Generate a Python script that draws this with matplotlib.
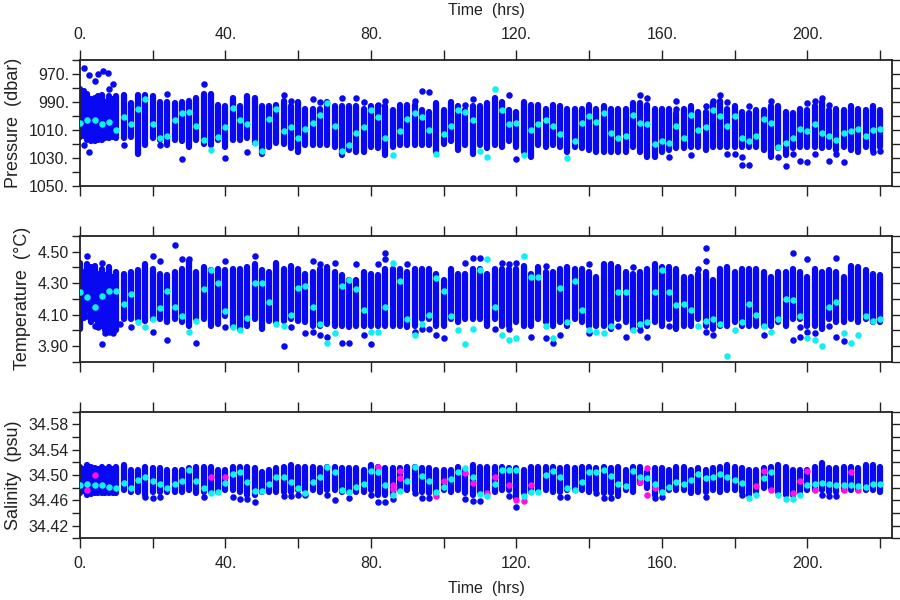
import matplotlib
matplotlib.use("Agg")
import matplotlib.pyplot as plt

plt.rcParams["font.family"] = ["Liberation Sans", "DejaVu Sans"]

# sampling times of the profile columns (hrs), one column every 2 hrs
hours = list(range(0, 222, 2))
early_hours = [1, 3, 5, 7, 9]

# ---------------- pressure (dbar) ----------------
# each row = 10 columns (20 hrs)
p_top = [981, 984, 987, 985, 986, 986, 985, 991, 985, 985,
         986, 990, 990, 991, 990, 989, 987, 984, 984, 992,
         993, 987, 993, 986, 987, 993, 993, 992, 989, 993,
         990, 995, 995, 995, 990, 993, 993, 993, 993, 995,
         993, 993, 993, 996, 992, 992, 992, 996, 997, 991,
         996, 990, 993, 996, 993, 993, 991, 987, 990, 996,
         997, 990, 992, 992, 995, 992, 993, 995, 995, 995,
         992, 995, 993, 995, 995, 995, 991, 991, 992, 995,
         995, 995, 998, 995, 993, 997, 997, 991, 989, 995,
         993, 997, 998, 996, 996, 993, 993, 997, 998, 995,
         996, 993, 990, 996, 995, 996, 993, 995, 996, 993,
         996]
p_bot = [1015, 1017, 1018, 1017, 1016, 1016, 1016, 1015, 1027, 1021,
         1016, 1017, 1021, 1017, 1018, 1022, 1017, 1020, 1021, 1017,
         1022, 1017, 1017, 1016, 1019, 1027, 1022, 1019, 1020, 1023,
         1026, 1021, 1021, 1021, 1021, 1022, 1028, 1024, 1026, 1026,
         1022, 1023, 1028, 1022, 1021, 1021, 1021, 1021, 1021, 1026,
         1020, 1018, 1024, 1021, 1027, 1021, 1023, 1021, 1022, 1018,
         1022, 1026, 1029, 1021, 1022, 1021, 1022, 1026, 1022, 1023,
         1024, 1026, 1026, 1026, 1026, 1026, 1022, 1026, 1029, 1029,
         1026, 1024, 1023, 1023, 1022, 1022, 1024, 1022, 1022, 1022,
         1022, 1022, 1022, 1022, 1024, 1029, 1023, 1028, 1023, 1022,
         1022, 1022, 1023, 1022, 1024, 1022, 1024, 1026, 1022, 1024,
         1022]
p_mean = [1005, 1003, 1003, 1006, 1004, 1010, 1001, 1006, 995, 988,
          1006, 1016, 1014, 1003, 998, 997, 1007, 1017, 1024, 1015,
          1008, 994, 1003, 1006, 1019, 1025, 1002, 995, 1011, 1008,
          1016, 1009, 1005, 999, 991, 1007, 1025, 1021, 1012, 1008,
          996, 1001, 1016, 1028, 1011, 1002, 998, 1001, 1010, 1027,
          1013, 1007, 996, 997, 1003, 1025, 1029, 981, 996, 1006,
          1005, 1028, 1010, 1006, 1003, 1007, 1013, 1030, 1018, 1005,
          1000, 1004, 998, 1012, 1016, 1014, 999, 1005, 1006, 1020,
          1018, 1019, 1007, 1016, 999, 1010, 1008, 996, 1000, 1007,
          1000, 1016, 1018, 1014, 1002, 1005, 1022, 1019, 1016, 1009,
          1011, 1006, 1012, 1014, 1017, 1012, 1011, 1009, 1014, 1010,
          1009]
p_early_top = [982, 988, 986, 990, 988]
p_early_bot = [1014, 1018, 1017, 1016, 1015]
p_extra = [(1, 966), (2.6, 971), (4, 975), (5, 970), (6.4, 968), (7.6, 969), (9, 977),
           (8, 981), (1, 1021), (2.4, 1026), (12, 1021), (22, 1021), (24, 984), (28, 1031),
           (34, 977), (40, 1030), (46, 1026), (56, 985), (58, 989), (64, 988), (66, 990),
           (72, 987), (76, 987), (78, 990), (82, 992), (84, 989), (92, 989), (94, 982),
           (96, 983), (106, 992), (108, 988), (118, 985), (120, 1031), (154, 985),
           (156, 987), (162, 1029), (164, 989), (164, 995), (168, 1028), (172, 993),
           (174, 989), (176, 985), (178, 990), (178, 1027), (180, 1027), (182, 1029),
           (182, 1035), (184, 993), (184, 1035), (190, 989), (192, 1029), (194, 1036),
           (196, 1027), (198, 1032), (200, 991), (200, 1033), (202, 989), (202, 1027),
           (204, 987), (206, 992), (206, 1032), (208, 1027), (210, 1033), (218, 1026),
           (220, 1025)]

# ---------------- temperature (deg C) ----------------
t_top = [4.43, 4.42, 4.41, 4.39, 4.40, 4.37, 4.36, 4.37, 4.38, 4.42,
         4.39, 4.36, 4.35, 4.37, 4.39, 4.44, 4.37, 4.40, 4.38, 4.39,
         4.38, 4.39, 4.39, 4.40, 4.42, 4.38, 4.37, 4.43, 4.39, 4.41,
         4.39, 4.36, 4.37, 4.39, 4.40, 4.37, 4.35, 4.32, 4.32, 4.37,
         4.36, 4.35, 4.39, 4.39, 4.39, 4.37, 4.39, 4.39, 4.39, 4.36,
         4.32, 4.39, 4.36, 4.36, 4.39, 4.39, 4.36, 4.39, 4.39, 4.39,
         4.39, 4.41, 4.36, 4.40, 4.37, 4.37, 4.39, 4.40, 4.39, 4.39,
         4.37, 4.34, 4.42, 4.42, 4.40, 4.37, 4.36, 4.37, 4.39, 4.42,
         4.40, 4.40, 4.39, 4.34, 4.34, 4.36, 4.37, 4.32, 4.39, 4.40,
         4.37, 4.39, 4.39, 4.39, 4.37, 4.34, 4.37, 4.37, 4.39, 4.37,
         4.34, 4.39, 4.37, 4.38, 4.37, 4.34, 4.41, 4.40, 4.38, 4.36,
         4.35]
t_bot = [4.01, 4.13, 4.07, 4.03, 4.01, 4.00, 4.07, 4.07, 4.07, 4.06,
         4.07, 4.07, 4.05, 4.07, 4.05, 4.03, 4.07, 4.07, 4.03, 4.04,
         4.09, 4.03, 4.01, 4.03, 4.07, 4.01, 4.06, 4.05, 4.06, 4.07,
         4.06, 4.05, 4.03, 4.03, 4.04, 4.03, 4.03, 4.02, 4.03, 4.03,
         4.03, 4.03, 4.03, 4.03, 4.03, 4.02, 4.03, 4.07, 4.07, 4.03,
         4.03, 4.07, 4.05, 4.07, 4.07, 4.07, 4.03, 4.07, 4.03, 4.03,
         4.05, 4.03, 4.03, 4.07, 4.05, 4.03, 4.05, 4.03, 4.07, 4.05,
         4.03, 4.03, 4.03, 4.01, 4.07, 4.05, 4.01, 4.03, 4.03, 4.05,
         4.03, 4.07, 4.01, 4.03, 4.03, 4.07, 4.03, 4.01, 4.03, 4.03,
         4.05, 4.03, 4.03, 4.03, 4.03, 4.03, 4.05, 4.03, 4.07, 4.07,
         4.03, 4.03, 4.01, 4.07, 4.05, 4.05, 4.07, 4.05, 4.07, 4.05,
         4.05]
t_mean = [4.24, 4.21, 4.15, 4.22, 4.25, 4.25, 4.17, 4.23, 4.05, 4.02,
          4.07, 4.14, 4.25, 4.15, 4.09, 3.99, 4.06, 4.26, 4.38, 4.30,
          4.12, 4.02, 4.00, 4.08, 4.30, 4.30, 4.18, 4.04, 4.03, 4.10,
          4.27, 4.28, 4.15, 4.04, 3.92, 3.98, 4.28, 4.32, 4.26, 4.13,
          3.99, 3.99, 4.15, 4.43, 4.31, 4.07, 3.97, 4.04, 4.10, 4.33,
          4.25, 4.09, 4.00, 3.91, 4.01, 4.38, 4.45, 4.15, 3.97, 3.94,
          3.95, 4.47, 4.34, 4.34, 4.03, 3.95, 4.27, 4.05, 4.31, 4.13,
          4.00, 3.99, 3.98, 4.03, 4.24, 4.24, 4.00, 4.04, 4.05, 4.24,
          4.38, 4.24, 4.16, 4.17, 4.13, 4.03, 4.06, 4.07, 4.04, 3.84,
          4.00, 4.05, 4.17, 4.10, 4.03, 3.99, 4.07, 4.20, 4.19, 4.09,
          3.95, 3.94, 3.90, 4.15, 4.18, 3.98, 3.92, 3.97, 4.09, 4.06,
          4.07]
t_early_top = [4.37, 4.40, 4.36, 4.35, 4.34]
t_early_bot = [4.08, 4.05, 4.02, 4.00, 4.00]
t_extra = [(2, 4.47), (2, 4.09), (4, 4.03), (6, 4.43), (6, 3.91), (8, 3.99), (5, 4.02),
           (7, 3.98), (9, 3.98), (11, 4.04), (14, 4.02), (20, 4.47), (20, 3.99), (22, 4.44),
           (24, 3.94), (26, 4.54), (28, 4.45), (30, 4.45), (32, 3.92), (40, 4.44), (40, 4.02),
           (48, 4.47), (56, 3.90), (58, 4.02), (62, 3.98), (64, 4.44), (64, 3.99), (66, 4.42),
           (66, 3.97), (68, 3.96), (70, 4.43), (72, 3.92), (74, 3.92), (76, 4.42), (78, 3.97),
           (80, 3.91), (82, 4.42), (84, 4.49), (84, 4.45), (90, 4.42), (92, 3.99), (94, 4.01),
           (96, 4.01), (98, 3.97), (100, 3.95), (106, 4.43), (108, 4.46), (110, 4.46),
           (114, 4.01), (116, 4.43), (118, 4.42), (118, 4.01), (120, 4.43), (124, 3.96),
           (128, 4.41), (128, 3.95), (130, 3.92), (132, 3.97), (140, 4.42), (140, 3.98),
           (148, 4.03), (150, 3.96), (152, 4.40), (154, 4.00), (156, 3.96), (162, 4.03),
           (170, 4.39), (172, 4.52), (172, 4.44), (172, 3.99), (174, 3.97), (188, 3.97),
           (196, 4.49), (196, 3.94), (198, 4.02), (198, 3.96), (200, 4.45), (200, 3.99),
           (202, 3.98), (206, 4.03), (208, 4.46), (208, 3.96), (210, 3.93)]

# ---------------- salinity (psu) ----------------
s_top = [34.513, 34.516, 34.511, 34.513, 34.513, 34.513, 34.516, 34.508, 34.508, 34.513,
         34.511, 34.511, 34.508, 34.508, 34.508, 34.511, 34.513, 34.513, 34.513, 34.508,
         34.508, 34.513, 34.513, 34.513, 34.511, 34.505, 34.508, 34.511, 34.513, 34.516,
         34.513, 34.513, 34.513, 34.511, 34.513, 34.513, 34.511, 34.511, 34.511, 34.508,
         34.516, 34.513, 34.511, 34.511, 34.511, 34.513, 34.513, 34.511, 34.511, 34.508,
         34.508, 34.508, 34.513, 34.508, 34.516, 34.513, 34.513, 34.513, 34.513, 34.511,
         34.511, 34.508, 34.513, 34.513, 34.513, 34.513, 34.511, 34.513, 34.511, 34.513,
         34.513, 34.511, 34.513, 34.511, 34.513, 34.508, 34.513, 34.513, 34.505, 34.511,
         34.511, 34.508, 34.513, 34.513, 34.508, 34.511, 34.508, 34.511, 34.513, 34.516,
         34.513, 34.511, 34.508, 34.508, 34.511, 34.513, 34.516, 34.513, 34.508, 34.508,
         34.508, 34.513, 34.519, 34.511, 34.511, 34.513, 34.513, 34.511, 34.516, 34.516,
         34.513]
s_bot = [34.471, 34.468, 34.471, 34.471, 34.471, 34.471, 34.476, 34.473, 34.473, 34.468,
         34.473, 34.473, 34.473, 34.473, 34.473, 34.476, 34.471, 34.473, 34.473, 34.473,
         34.476, 34.476, 34.473, 34.468, 34.468, 34.473, 34.473, 34.473, 34.473, 34.473,
         34.476, 34.476, 34.476, 34.473, 34.476, 34.476, 34.473, 34.473, 34.473, 34.473,
         34.476, 34.468, 34.468, 34.468, 34.476, 34.476, 34.476, 34.473, 34.471, 34.471,
         34.476, 34.473, 34.476, 34.471, 34.468, 34.473, 34.471, 34.473, 34.476, 34.476,
         34.463, 34.471, 34.473, 34.476, 34.476, 34.473, 34.473, 34.476, 34.476, 34.476,
         34.473, 34.476, 34.471, 34.471, 34.466, 34.476, 34.473, 34.487, 34.479, 34.468,
         34.473, 34.476, 34.476, 34.476, 34.471, 34.473, 34.473, 34.476, 34.473, 34.476,
         34.476, 34.473, 34.468, 34.473, 34.479, 34.479, 34.473, 34.468, 34.468, 34.473,
         34.476, 34.476, 34.476, 34.473, 34.473, 34.476, 34.476, 34.476, 34.476, 34.476,
         34.473]
s_mean = [34.484, 34.485, 34.484, 34.484, 34.481, 34.480, 34.487, 34.479, 34.492, 34.497,
          34.490, 34.485, 34.479, 34.485, 34.490, 34.508, 34.490, 34.479, 34.471, 34.473,
          34.487, 34.501, 34.505, 34.489, 34.474, 34.474, 34.485, 34.497, 34.497, 34.488,
          34.479, 34.472, 34.488, 34.497, 34.512, 34.505, 34.476, 34.473, 34.481, 34.485,
          34.506, 34.505, 34.484, 34.468, 34.475, 34.490, 34.512, 34.499, 34.490, 34.473,
          34.481, 34.494, 34.504, 34.511, 34.497, 34.470, 34.466, 34.485, 34.508, 34.508,
          34.508, 34.466, 34.473, 34.473, 34.500, 34.506, 34.497, 34.479, 34.476, 34.488,
          34.505, 34.504, 34.508, 34.498, 34.485, 34.483, 34.506, 34.497, 34.495, 34.485,
          34.473, 34.481, 34.488, 34.485, 34.492, 34.501, 34.495, 34.497, 34.501, 34.497,
          34.492, 34.487, 34.463, 34.469, 34.495, 34.504, 34.469, 34.462, 34.462, 34.468,
          34.484, 34.485, 34.487, 34.485, 34.484, 34.484, 34.484, 34.483, 34.481, 34.485,
          34.485]
s_early_top = [34.510, 34.512, 34.510, 34.510, 34.510]
s_early_bot = [34.475, 34.470, 34.472, 34.472, 34.472]
s_extra = [(18, 34.465), (20, 34.463), (22, 34.465), (34, 34.465), (42, 34.465),
           (44, 34.462), (46, 34.462), (48, 34.457), (56, 34.467), (58, 34.467),
           (60, 34.468), (62, 34.468), (68, 34.468), (70, 34.461), (74, 34.464),
           (80, 34.468), (82, 34.457), (84, 34.457), (86, 34.462), (92, 34.472),
           (94, 34.464), (96, 34.464), (106, 34.462), (108, 34.458), (110, 34.458),
           (118, 34.467), (120, 34.450), (132, 34.465), (134, 34.465), (142, 34.471),
           (144, 34.463), (146, 34.463), (158, 34.463), (160, 34.465), (172, 34.465),
           (182, 34.468), (204, 34.468), (206, 34.467), (208, 34.467)]
# flagged salinity samples (magenta)
s_flag = [(2, 34.476), (4, 34.500), (36, 34.497), (40, 34.497), (82, 34.512), (86, 34.484),
          (86, 34.477), (88, 34.506), (88, 34.495), (98, 34.467), (100, 34.490),
          (106, 34.503), (108, 34.487), (112, 34.471), (114, 34.497), (118, 34.484),
          (120, 34.460), (122, 34.458), (124, 34.484), (154, 34.489), (156, 34.511),
          (156, 34.469), (158, 34.479), (186, 34.483), (188, 34.506), (190, 34.476),
          (196, 34.471), (198, 34.490), (200, 34.506), (202, 34.476), (210, 34.476),
          (212, 34.504), (214, 34.476)]

blue = "#0808f2"
cyan = "#10f0f0"
magenta = "#ff10e8"
ink = "#222222"
lw = 4.5
ms = 22

fig = plt.figure(figsize=(9, 6), dpi=100)
ax1 = fig.add_axes([0.0889, 0.690, 0.9019, 0.210])
ax2 = fig.add_axes([0.0889, 0.397, 0.9019, 0.210])
ax3 = fig.add_axes([0.0889, 0.103, 0.9019, 0.211])

panels = [
    (ax1, p_top, p_bot, p_mean, p_early_top, p_early_bot, p_extra),
    (ax2, t_top, t_bot, t_mean, t_early_top, t_early_bot, t_extra),
    (ax3, s_top, s_bot, s_mean, s_early_top, s_early_bot, s_extra),
]
for ax, top, bot, mean, etop, ebot, extra in panels:
    ax.vlines(hours, bot, top, colors=blue, linewidth=lw, capstyle="round", zorder=2)
    ax.vlines(early_hours, ebot, etop, colors=blue, linewidth=lw, capstyle="round", zorder=2)
    ex_t, ex_v = zip(*extra)
    ax.scatter(ex_t, ex_v, s=ms, color=blue, linewidths=0, zorder=3)
    if ax is ax3:
        fl_t, fl_v = zip(*s_flag)
        ax.scatter(fl_t, fl_v, s=ms, color=magenta, linewidths=0, zorder=4)
    ax.scatter(hours, mean, s=ms, color=cyan, linewidths=0, zorder=5)

# axes styling
xt = list(range(0, 221, 20))
xl = [f"{v}." if v % 40 == 0 else "" for v in xt]
for ax in (ax1, ax2, ax3):
    ax.set_xlim(0, 223.2)
    ax.set_xticks(xt, xl)
    ax.tick_params(axis="x", direction="out", length=7, width=1.0, top=True, bottom=True,
                   labeltop=False, labelbottom=False, labelsize=11.5, pad=6, colors=ink)
    ax.tick_params(axis="y", direction="out", length=6, width=1.0, left=True, right=True,
                   labelleft=True, labelright=False, labelsize=11.5, pad=2, colors=ink)
    for sp in ax.spines.values():
        sp.set_linewidth(1.3)
        sp.set_color(ink)

ax1.tick_params(axis="x", labeltop=True)
ax3.tick_params(axis="x", labelbottom=True)

pt = list(range(960, 1051, 10))
ax1.set_ylim(1050, 960)
ax1.set_yticks(pt, [f"{v}." if (v - 970) % 20 == 0 else "" for v in pt])

tt = [3.8, 3.9, 4.0, 4.1, 4.2, 4.3, 4.4, 4.5, 4.6]
ax2.set_ylim(3.8, 4.6)
ax2.set_yticks(tt, ["", "3.90", "", "4.10", "", "4.30", "", "4.50", ""])

st = [34.40, 34.42, 34.44, 34.46, 34.48, 34.50, 34.52, 34.54, 34.56, 34.58, 34.60]
ax3.set_ylim(34.40, 34.60)
ax3.set_yticks(st, ["", "34.42", "", "34.46", "", "34.50", "", "34.54", "", "34.58", ""])

ax1.set_ylabel("Pressure  (dbar)", fontsize=13, labelpad=5, color=ink)
ax2.set_ylabel("Temperature  (°C)", fontsize=13, labelpad=5, color=ink)
ax3.set_ylabel("Salinity  (psu)", fontsize=13, labelpad=5, color=ink)

fig.text(0.540, 1 - 10 / 600, "Time  (hrs)", ha="center", va="center", fontsize=11.5, color=ink)
fig.text(0.540, 1 - 588 / 600, "Time  (hrs)", ha="center", va="center", fontsize=11.5, color=ink)

fig.savefig("out.png", dpi=100)
